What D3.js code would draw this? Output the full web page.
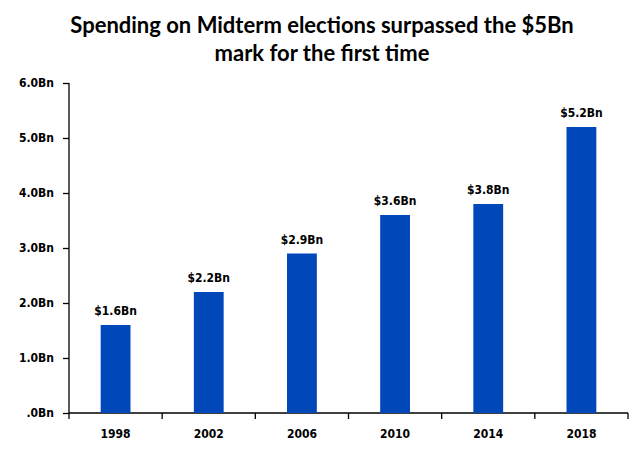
<!DOCTYPE html>
<html>
<head>
<meta charset="utf-8">
<script src="https://cdn.jsdelivr.net/npm/d3@7"></script>
<style>
  body { margin: 0; background: #fff; }
  .title { font-family: Lato, "Open Sans", sans-serif; font-weight: bold; font-size: 22px; fill: #000; }
  .axis text { font-family: "DejaVu Sans Condensed", "DejaVu Sans", sans-serif; font-stretch: condensed; font-weight: bold; font-size: 12px; fill: #000; }
  .axis path, .axis line { stroke: #000; stroke-width: 1.3; }
  .barLabel { font-family: "DejaVu Sans Condensed", "DejaVu Sans", sans-serif; font-stretch: condensed; font-weight: bold; font-size: 12px; fill: #000; }
</style>
</head>
<body>
<div id="chart"></div>
<script>
var years = ["1998", "2002", "2006", "2010", "2014", "2018"];
var spending = [1.6, 2.2, 2.9, 3.6, 3.8, 5.2];
var barLabels = ["$1.6Bn", "$2.2Bn", "$2.9Bn", "$3.6Bn", "$3.8Bn", "$5.2Bn"];
var yTicks = [0, 1, 2, 3, 4, 5, 6];
var yTickLabels = [".0Bn", "1.0Bn", "2.0Bn", "3.0Bn", "4.0Bn", "5.0Bn", "6.0Bn"];
var titleLines = ["Spending on Midterm elections surpassed the $5Bn", "mark for the first time"];

var svgWidth = 643;
var svgHeight = 454;

var margin = { top: 83, right: 15, bottom: 41, left: 69 };
var width = svgWidth - margin.left - margin.right;
var height = svgHeight - margin.top - margin.bottom;

var svg = d3.select("#chart")
  .append("svg")
  .attr("width", svgWidth)
  .attr("height", svgHeight);

// title, two lines
svg.append("g").selectAll("text")
  .data(titleLines)
  .enter()
  .append("text")
  .classed("title", true)
  .attr("x", 322)
  .attr("y", (d, i) => 33 + i * 28)
  .attr("text-anchor", "middle")
  .text(d => d);

var chartGroup = svg.append("g")
  .attr("transform", `translate(${margin.left}, ${margin.top})`);

var xScale = d3.scaleBand()
  .domain(years)
  .range([0, width])
  .paddingInner(0.68)
  .paddingOuter(0.34);

var yScale = d3.scaleLinear()
  .domain([0, 6])
  .range([height, 0]);

// y axis
var leftAxis = d3.axisLeft(yScale)
  .tickValues(yTicks)
  .tickSize(6)
  .tickPadding(9)
  .tickFormat((d, i) => yTickLabels[i]);

chartGroup.append("g")
  .classed("axis", true)
  .call(leftAxis)
  .call(g => g.select(".domain").attr("d", `M0,0V${height}`));

// x axis: ticks sit between the categories
var bottomAxis = d3.axisBottom(xScale)
  .tickSize(0)
  .tickPadding(16);

var xAxis = chartGroup.append("g")
  .classed("axis", true)
  .attr("transform", `translate(0, ${height})`)
  .call(bottomAxis)
  .call(g => g.select(".domain").attr("d", `M0,0H${width}`));

xAxis.selectAll(".sep")
  .data(d3.range(years.length + 1))
  .enter()
  .append("line")
  .attr("x1", d => d * width / years.length)
  .attr("x2", d => d * width / years.length)
  .attr("y1", 0)
  .attr("y2", 6);

// bars
chartGroup.selectAll("rect")
  .data(spending)
  .enter()
  .append("rect")
  .attr("x", (d, i) => xScale(years[i]))
  .attr("y", d => yScale(d))
  .attr("width", xScale.bandwidth())
  .attr("height", d => height - yScale(d))
  .attr("fill", "#0047BA");

// value labels
chartGroup.selectAll(".barLabel")
  .data(spending)
  .enter()
  .append("text")
  .classed("barLabel", true)
  .attr("x", (d, i) => xScale(years[i]) + xScale.bandwidth() / 2)
  .attr("y", d => yScale(d) - 10)
  .attr("text-anchor", "middle")
  .text((d, i) => barLabels[i]);
</script>
</body>
</html>
